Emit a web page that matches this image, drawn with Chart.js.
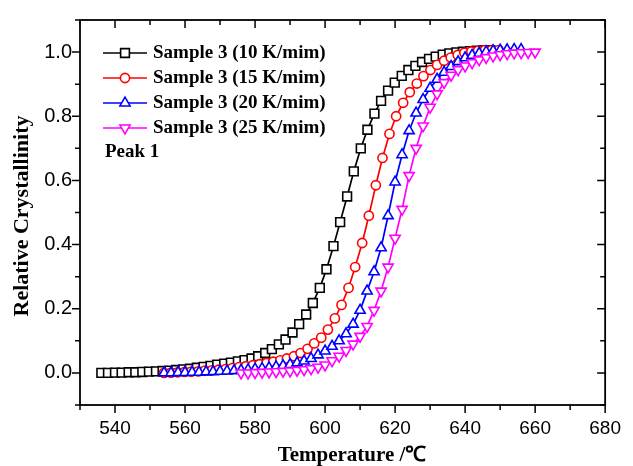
<!DOCTYPE html>
<html lang="en">
<head>
<meta charset="UTF-8">
<title>Relative Crystallinity</title>
<script src="https://cdn.jsdelivr.net/npm/chart.js"></script>
<style>
  html, body { margin: 0; padding: 0; background: #fff; }
</style>
</head>
<body>
<canvas id="chart" width="633" height="466"></canvas>
<script>
  // Sample 3, 10 K/min
  const temps10 = [536.1, 538.0, 540.0, 541.9, 543.9, 545.8, 547.8, 549.7, 551.7, 553.6,
    555.6, 557.5, 559.5, 561.4, 563.4, 565.3, 567.3, 569.2, 571.2, 573.1,
    575.1, 577.0, 579.0, 580.9, 582.9, 584.8, 586.8, 588.7, 590.7, 592.6,
    594.6, 596.5, 598.5, 600.4, 602.4, 604.3, 606.3, 608.2, 610.2, 612.1,
    614.1, 616.0, 618.0, 619.9, 621.9, 623.8, 625.8, 627.7, 629.7, 631.6,
    633.6, 635.5, 637.5, 639.4, 641.4, 643.3, 645.3, 647.2];
  const cryst10 = [0.000, 0.000, 0.001, 0.001, 0.002, 0.002, 0.003, 0.004, 0.005, 0.006,
    0.007, 0.009, 0.011, 0.013, 0.016, 0.019, 0.022, 0.026, 0.029, 0.032,
    0.036, 0.040, 0.045, 0.052, 0.062, 0.074, 0.089, 0.104, 0.126, 0.152,
    0.182, 0.218, 0.265, 0.323, 0.395, 0.470, 0.550, 0.628, 0.700, 0.758,
    0.808, 0.848, 0.880, 0.905, 0.926, 0.944, 0.957, 0.969, 0.979, 0.986,
    0.992, 0.996, 0.999, 1.001, 1.003, 1.004, 1.005, 1.006];

  // Sample 3, 15 K/min
  const temps15 = [554.0, 556.0, 557.9, 559.9, 561.8, 563.8, 565.7, 567.7, 569.6, 571.6,
    573.5, 575.5, 577.4, 579.4, 581.3, 583.3, 585.2, 587.2, 589.1, 591.1,
    593.0, 595.0, 596.9, 598.9, 600.8, 602.8, 604.7, 606.7, 608.6, 610.6,
    612.5, 614.5, 616.4, 618.4, 620.3, 622.3, 624.2, 626.2, 628.1, 630.1,
    632.0, 634.0, 635.9, 637.9, 639.8, 641.8, 643.7, 645.7, 647.6, 649.6];
  const cryst15 = [0.000, 0.001, 0.002, 0.003, 0.004, 0.005, 0.007, 0.008, 0.010, 0.012,
    0.015, 0.018, 0.021, 0.024, 0.027, 0.031, 0.035, 0.039, 0.045, 0.052,
    0.062, 0.075, 0.092, 0.110, 0.135, 0.170, 0.212, 0.265, 0.330, 0.405,
    0.490, 0.585, 0.670, 0.745, 0.800, 0.842, 0.875, 0.902, 0.925, 0.944,
    0.960, 0.973, 0.983, 0.991, 0.998, 1.002, 1.004, 1.006, 1.006, 1.006];

  // Sample 3, 20 K/min
  const temps20 = [554, 556, 558, 560, 562, 564, 566, 568, 570, 572,
    574, 576, 578, 580, 582, 584, 586, 588, 590, 592,
    594, 596, 598, 600, 602, 604, 606, 608, 610, 612,
    614, 616, 618, 620, 622, 624, 626, 628, 630, 632,
    634, 636, 638, 640, 642, 644, 646, 648, 650, 652,
    654, 656];
  const cryst20 = [0.000, 0.000, 0.001, 0.001, 0.002, 0.002, 0.003, 0.004, 0.005, 0.006,
    0.007, 0.008, 0.010, 0.012, 0.014, 0.016, 0.019, 0.022, 0.026, 0.031,
    0.037, 0.045, 0.056, 0.068, 0.083, 0.100, 0.122, 0.152, 0.195, 0.255,
    0.315, 0.390, 0.490, 0.595, 0.680, 0.755, 0.810, 0.852, 0.887, 0.915,
    0.937, 0.955, 0.970, 0.982, 0.990, 0.996, 1.001, 1.004, 1.006, 1.007,
    1.008, 1.008];

  // Sample 3, 25 K/min
  const temps25 = [576, 578, 580, 582, 584, 586, 588, 590, 592, 594,
    596, 598, 600, 602, 604, 606, 608, 610, 612, 614,
    616, 618, 620, 622, 624, 626, 628, 630, 632, 634,
    636, 638, 640, 642, 644, 646, 648, 650, 652, 654,
    656, 658, 660];
  const cryst25 = [0.000, 0.000, 0.001, 0.002, 0.003, 0.004, 0.005, 0.006, 0.008, 0.010,
    0.013, 0.018, 0.025, 0.038, 0.052, 0.070, 0.090, 0.114, 0.145, 0.195,
    0.255, 0.330, 0.420, 0.510, 0.615, 0.700, 0.770, 0.828, 0.870, 0.905,
    0.928, 0.945, 0.957, 0.967, 0.976, 0.983, 0.988, 0.992, 0.995, 0.997,
    0.998, 0.999, 1.000];

  const seriesLabels = ['Sample 3 (10 K/mim)', 'Sample 3 (15 K/mim)', 'Sample 3 (20 K/mim)', 'Sample 3 (25 K/mim)'];
  const noteText = 'Peak 1';
  const xTitle = 'Temperature /\u2103';
  const yTitle = 'Relative Crystallinity';

  const labelFont = "'Liberation Sans', Arial, sans-serif";
  const titleFont = "'Liberation Serif', 'Times New Roman', serif";

  const styles = [
    { color: '#000000', pointStyle: 'rect', radius: 6.2, rotation: 0 },
    { color: '#ff0000', pointStyle: 'circle', radius: 4.6, rotation: 0 },
    { color: '#0000ff', pointStyle: 'triangle', radius: 5.9, rotation: 0 },
    { color: '#ff00ff', pointStyle: 'triangle', radius: 5.9, rotation: 180 }
  ];

  const series = [[temps10, cryst10], [temps15, cryst15], [temps20, cryst20], [temps25, cryst25]];

  const datasets = series.map(([t, v], i) => ({
    label: seriesLabels[i],
    data: t.map((x, k) => ({ x: x, y: v[k] })),
    borderColor: styles[i].color,
    borderWidth: 1.7,
    pointStyle: styles[i].pointStyle,
    pointRotation: styles[i].rotation,
    pointRadius: styles[i].radius,
    pointBorderWidth: 1.6,
    pointBorderColor: styles[i].color,
    pointBackgroundColor: '#ffffff',
    tension: 0,
    order: 4 - i
  }));

  // little marker drawer for the legend, same geometry as Chart.js points
  function marker(ctx, s, x, y) {
    const r = s.radius;
    ctx.beginPath();
    if (s.pointStyle === 'rect') {
      const h = r * Math.SQRT1_2;
      ctx.rect(x - h, y - h, 2 * h, 2 * h);
    } else if (s.pointStyle === 'circle') {
      ctx.arc(x, y, r, 0, Math.PI * 2);
    } else {
      const sign = s.rotation === 180 ? -1 : 1;
      ctx.moveTo(x, y - sign * r);
      ctx.lineTo(x + r * Math.sin(Math.PI / 3), y + sign * r / 2);
      ctx.lineTo(x - r * Math.sin(Math.PI / 3), y + sign * r / 2);
      ctx.closePath();
    }
    ctx.fillStyle = '#fff';
    ctx.fill();
    ctx.stroke();
  }

  const decorations = {
    id: 'decorations',
    afterDraw(chart) {
      const { ctx, chartArea: a, scales: { x, y } } = chart;
      ctx.save();
      ctx.strokeStyle = '#000';
      ctx.lineWidth = 1.8;
      ctx.strokeRect(a.left, a.top, a.right - a.left, a.bottom - a.top);

      // ticks: out on bottom/left, in on top/right
      ctx.lineWidth = 1.5;
      ctx.beginPath();
      x.ticks.forEach(t => {
        const px = x.getPixelForValue(t.value);
        const len = t.value % 20 === 0 ? 8 : 5;
        ctx.moveTo(px, a.bottom); ctx.lineTo(px, a.bottom + len);
        ctx.moveTo(px, a.top); ctx.lineTo(px, a.top + len);
      });
      y.ticks.forEach(t => {
        const py = y.getPixelForValue(t.value);
        const len = Math.round(t.value * 10) % 2 === 0 ? 8 : 5;
        ctx.moveTo(a.left - len, py); ctx.lineTo(a.left, py);
        ctx.moveTo(a.right - len, py); ctx.lineTo(a.right, py);
      });
      ctx.stroke();

      // axis titles
      ctx.fillStyle = '#000';
      ctx.font = 'bold 21px ' + titleFont;
      ctx.textAlign = 'center';
      ctx.textBaseline = 'middle';
      ctx.fillText(xTitle, 352, 456);
      ctx.save();
      ctx.translate(22, 216);
      ctx.rotate(-Math.PI / 2);
      ctx.font = 'bold 22px ' + titleFont;
      ctx.fillText(yTitle, 0, 0);
      ctx.restore();

      // legend
      const rowY = [53, 78, 103, 128];
      ctx.font = 'bold 19px ' + titleFont;
      ctx.textAlign = 'left';
      seriesLabels.forEach((lab, i) => {
        const s = styles[i];
        ctx.strokeStyle = s.color;
        ctx.lineWidth = 1.6;
        ctx.beginPath();
        ctx.moveTo(103, rowY[i]); ctx.lineTo(147, rowY[i]);
        ctx.stroke();
        marker(ctx, s, 125, rowY[i]);
        ctx.fillStyle = '#000';
        ctx.fillText(lab, 153, rowY[i]);
      });
      ctx.fillText(noteText, 105, 152);
      ctx.restore();
    }
  };

  new Chart(document.getElementById('chart').getContext('2d'), {
    type: 'line',
    data: { datasets: datasets },
    options: {
      responsive: false,
      animation: false,
      devicePixelRatio: 1,
      layout: { padding: { top: 13, right: 19, left: 0, bottom: 0 } },
      plugins: { legend: { display: false }, tooltip: { enabled: false } },
      scales: {
        x: {
          type: 'linear',
          min: 530, max: 680,
          grid: { display: false, drawTicks: false },
          border: { display: false },
          ticks: {
            stepSize: 10,
            autoSkip: false,
            maxRotation: 0,
            padding: 12,
            color: '#000',
            font: { family: labelFont, size: 19 },
            callback: v => (v % 20 === 0 ? String(v) : '')
          },
          afterFit: s => { s.height = 61; }
        },
        y: {
          min: -0.1, max: 1.1,
          grid: { display: false, drawTicks: false },
          border: { display: false },
          ticks: {
            stepSize: 0.1,
            autoSkip: false,
            padding: 8,
            color: '#000',
            font: { family: labelFont, size: 20 },
            callback: v => {
              const k = Math.round(v * 10);
              return (k % 2 === 0 && k >= 0 && k <= 10) ? (k / 10).toFixed(1) : '';
            }
          },
          afterFit: s => { s.width = 80; }
        }
      }
    },
    plugins: [decorations]
  });
</script>
</body>
</html>
